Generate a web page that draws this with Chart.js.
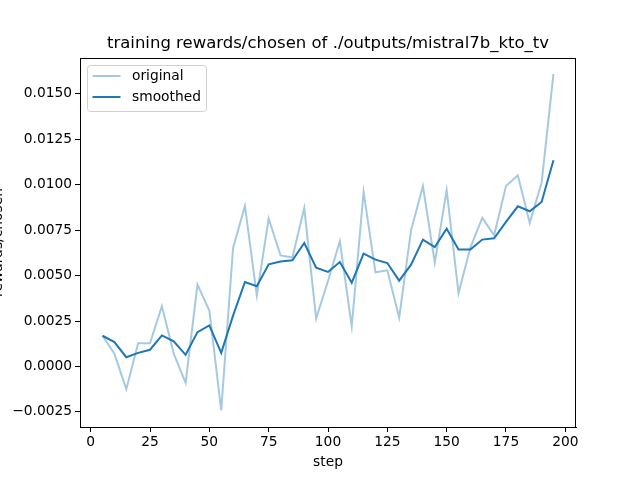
<!DOCTYPE html>
<html>
<head>
<meta charset="utf-8">
<script src="https://cdn.jsdelivr.net/npm/chart.js@4/dist/chart.umd.min.js"></script>
<style>
html,body{margin:0;padding:0;background:#fff;}
#c{display:block;}
</style>
</head>
<body>
<canvas id="c" width="640" height="480"></canvas>
<script>
const steps = [5,10,15,20,25,30,35,40,45,50,55,60,65,70,75,80,85,90,95,100,105,110,115,120,125,130,135,140,145,150,155,160,165,170,175,180,185,190,195];
const original = [0.00169,0.0007,-0.00125,0.00128,0.00128,0.00332,0.0007,-0.0009,0.0045,0.00308,-0.00242,0.00652,0.00883,0.00391,0.00814,0.00611,0.00599,0.00872,0.00263,0.0047,0.00689,0.0022,0.0096,0.00518,0.00529,0.00268,0.00749,0.00992,0.00571,0.0097,0.00404,0.00654,0.00817,0.00722,0.00993,0.01052,0.0079,0.0101,0.01609];
const smoothed = [0.00169,0.00134,0.00051,0.00075,0.00092,0.00171,0.00138,0.00064,0.00189,0.00226,0.00075,0.0028,0.00465,0.00441,0.00562,0.00578,0.00584,0.00679,0.00544,0.0052,0.00575,0.00461,0.00621,0.00588,0.00569,0.00472,0.0056,0.00698,0.00657,0.00758,0.00643,0.00643,0.00698,0.00705,0.00795,0.00881,0.00854,0.00905,0.01135];
const xTicks = [0,25,50,75,100,125,150,175,200];
const yTicks = [-0.0025,0,0.0025,0.005,0.0075,0.01,0.0125,0.015];
const titleText = "training rewards/chosen of ./outputs/mistral7b_kto_tv";
const xLabel = "step";
const yLabel = "rewards/chosen";
const seriesNames = ["original","smoothed"];

const FONT = "'DejaVu Sans', sans-serif";
const BLUE = "#1f77b4";
const LIGHT = "rgba(31,119,180,0.4)";

const frame = {
  id: 'frame',
  afterDraw(chart) {
    const ctx = chart.ctx, a = chart.chartArea;
    ctx.save();
    ctx.strokeStyle = '#000';
    ctx.lineWidth = 1;
    ctx.strokeRect(Math.round(a.left) + 0.5, Math.round(a.top) + 0.5, Math.round(a.right - a.left) - 1, Math.round(a.bottom - a.top));
    // title
    ctx.fillStyle = '#000';
    ctx.font = "16.5px " + FONT;
    ctx.textAlign = 'center';
    ctx.textBaseline = 'middle';
    ctx.fillText(titleText, (a.left + a.right) / 2, 44);
    // axis labels
    ctx.font = "13.8px " + FONT;
    ctx.fillText(xLabel, (a.left + a.right) / 2, 462);
    ctx.save();
    ctx.translate(-2, (a.top + a.bottom) / 2);
    ctx.rotate(-Math.PI / 2);
    ctx.fillText(yLabel, 0, 0);
    ctx.restore();
    // legend
    const lx = 87.5, ly = 65.5, lw = 119, lh = 46, r = 3;
    ctx.beginPath();
    ctx.moveTo(lx + r, ly);
    ctx.lineTo(lx + lw - r, ly);
    ctx.quadraticCurveTo(lx + lw, ly, lx + lw, ly + r);
    ctx.lineTo(lx + lw, ly + lh - r);
    ctx.quadraticCurveTo(lx + lw, ly + lh, lx + lw - r, ly + lh);
    ctx.lineTo(lx + r, ly + lh);
    ctx.quadraticCurveTo(lx, ly + lh, lx, ly + lh - r);
    ctx.lineTo(lx, ly + r);
    ctx.quadraticCurveTo(lx, ly, lx + r, ly);
    ctx.closePath();
    ctx.fillStyle = 'rgba(255,255,255,0.8)';
    ctx.fill();
    ctx.strokeStyle = '#d0d0d0';
    ctx.stroke();
    const rows = [[seriesNames[0], LIGHT, 76], [seriesNames[1], BLUE, 97]];
    ctx.lineWidth = 2;
    ctx.textAlign = 'left';
    ctx.fillStyle = '#000';
    ctx.font = "13.8px " + FONT;
    for (const [name, col, y] of rows) {
      ctx.strokeStyle = col;
      ctx.beginPath();
      ctx.moveTo(92.5, y);
      ctx.lineTo(120.5, y);
      ctx.stroke();
      ctx.fillText(name, 132, y);
    }
    ctx.restore();
  }
};

new Chart(document.getElementById('c'), {
  type: 'line',
  data: {
    datasets: [
      { label: seriesNames[0], data: steps.map((s, i) => ({x: s, y: original[i]})), borderColor: LIGHT, borderWidth: 2, pointRadius: 0, tension: 0, fill: false, order: 2 },
      { label: seriesNames[1], data: steps.map((s, i) => ({x: s, y: smoothed[i]})), borderColor: BLUE, borderWidth: 2, pointRadius: 0, tension: 0, fill: false, order: 1 }
    ]
  },
  options: {
    responsive: false,
    animation: false,
    devicePixelRatio: 1,
    layout: { padding: { top: 58, right: 64, left: 0, bottom: 0 } },
    plugins: { legend: { display: false }, title: { display: false }, tooltip: { enabled: false } },
    scales: {
      x: {
        type: 'linear',
        min: -4.5, max: 204.5,
        afterBuildTicks: (s) => { s.ticks = xTicks.map(v => ({value: v})); },
        afterFit: (s) => { s.height = 53; },
        grid: { drawOnChartArea: false, drawTicks: true, tickLength: 5, tickColor: '#000', tickWidth: 1 },
        border: { display: true, color: '#000', width: 1 },
        ticks: { color: '#000', font: { family: FONT, size: 13.8 }, padding: 2, maxRotation: 0, autoSkip: false, callback: (v) => String(v) }
      },
      y: {
        type: 'linear',
        min: -0.00333, max: 0.01697,
        afterBuildTicks: (s) => { s.ticks = yTicks.map(v => ({value: v})); },
        afterFit: (s) => { s.width = 80; },
        grid: { drawOnChartArea: false, drawTicks: true, tickLength: 5, tickColor: '#000', tickWidth: 1 },
        border: { display: true, color: '#000', width: 1 },
        ticks: { color: '#000', font: { family: FONT, size: 13.8 }, padding: 3, autoSkip: false,
          callback: (v) => { const t = Number(v).toFixed(4); return t.startsWith('-') ? '\u2212' + t.slice(1) : t; } }
      }
    }
  },
  plugins: [frame]
});
</script>
</body>
</html>
